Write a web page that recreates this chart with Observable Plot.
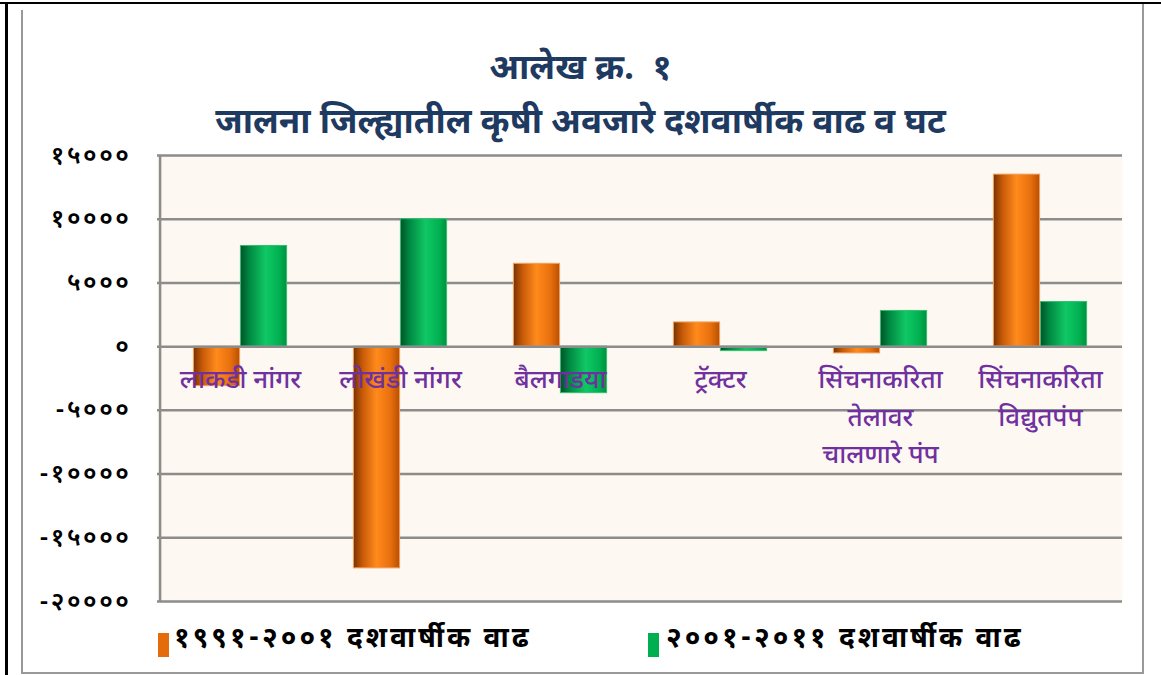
<!DOCTYPE html>
<html>
<head>
<meta charset="utf-8">
<script src="https://cdn.jsdelivr.net/npm/d3@7"></script>
<script src="https://cdn.jsdelivr.net/npm/@observablehq/plot@0.6"></script>
<style>
  html, body { margin: 0; padding: 0; background: #ffffff; }
  #wrap { position: relative; width: 1161px; height: 675px; overflow: hidden; background: #fff;
    font-family: "Noto Sans Devanagari", "Lohit Devanagari", "Noto Sans", sans-serif; }
  .title { position: absolute; left: 0; width: 1161px; text-align: center; color: #1F3A60; font-weight: bold;
    white-space: pre; line-height: 40px; }
  #chart { position: absolute; left: 0; top: 140px; }
  .leg { position: absolute; font-weight: bold; color: #000; font-size: 28px; line-height: 30px; white-space: nowrap; letter-spacing: 3px; }
  .sw { position: absolute; width: 11px; height: 24px; }
  #chart g[aria-label="y-axis tick label"] text { letter-spacing: 2.5px; }
</style>
</head>
<body>
<div id="wrap">
  <div style="position:absolute;left:0;top:2px;width:1161px;height:2px;background:#000"></div>
  <div style="position:absolute;left:5px;top:2px;width:3px;height:673px;background:#000"></div>
  <div style="position:absolute;left:21px;top:10px;width:2px;height:663px;background:#999"></div>
  <div style="position:absolute;left:1142px;top:4px;width:2px;height:669px;background:#999"></div>
  <div style="position:absolute;left:21px;top:672px;width:1123px;height:2px;background:#999"></div>
  <div class="title" id="t1" style="top:51px;font-size:35px;"></div>
  <div class="title" id="t2" style="top:105px;font-size:35px;"></div>
  <div id="chart"></div>
  <div class="sw" style="left:158px;top:633px;background:#E46C0A"></div>
  <div class="leg" id="l1" style="left:174px;top:625px;"></div>
  <div class="sw" style="left:648px;top:633px;background:#00B050"></div>
  <div class="leg" id="l2" style="left:666px;top:625px;"></div>
</div>
<script>
const titleLine1 = "आलेख क्र.  १";
const titleLine2 = "जालना जिल्ह्यातील कृषी अवजारे दशवार्षीक वाढ व घट";
const categories = ["लाकडी नांगर", "लोखंडी नांगर", "बैलगाडया", "ट्रॅक्टर", "सिंचनाकरिता\nतेलावर\nचालणारे पंप", "सिंचनाकरिता\nविद्युतपंप"];
const seriesNames = ["१९९१-२००१ दशवार्षीक वाढ", "२००१-२०११ दशवार्षीक वाढ"];
const series1991 = [-3100, -17400, 6500, 1900, -530, 13500];
const series2001 = [7900, 10000, -3650, -350, 2800, 3500];
const yTicks = [-20000, -15000, -10000, -5000, 0, 5000, 10000, 15000];
const yTickLabels = ["-२००००", "-१५०००", "-१००००", "-५०००", "०", "५०००", "१००००", "१५०००"];

document.getElementById("t1").textContent = titleLine1;
document.getElementById("t2").textContent = titleLine2;
document.getElementById("l1").textContent = seriesNames[0];
document.getElementById("l2").textContent = seriesNames[1];

const rowsA = categories.map((c, i) => ({cat: c, value: series1991[i]}));
const rowsB = categories.map((c, i) => ({cat: c, value: series2001[i]}));

const W = 1161, mL = 157, mR = 39;
const band = (W - mL - mR) / categories.length;
const barW = 47;
const inset = (band - barW) / 2;

const chart = Plot.plot({
  width: W,
  height: 480,
  marginLeft: mL,
  marginRight: mR,
  marginTop: 15,
  marginBottom: 19,
  style: {background: "transparent", fontFamily: "'Noto Sans Devanagari', 'Lohit Devanagari', 'Noto Sans', sans-serif"},
  x: {domain: categories, padding: 0, axis: null},
  y: {domain: [-20000, 15000], axis: null},
  marks: [
    Plot.frame({fill: "#FDF8F1", stroke: null}),
    Plot.ruleY(yTicks.filter(d => d !== 0), {stroke: "#8C8C8C", strokeWidth: 2.5}),
    Plot.ruleX([categories[0]], {y1: -20000, y2: 15000, dx: -band / 2, stroke: "#8C8C8C", strokeWidth: 2.5}),
    Plot.axisY({ticks: yTicks, tickFormat: d => yTickLabels[yTicks.indexOf(d)], tickSize: 0, tickPadding: 26, fontSize: 25, fontWeight: 600, color: "#000", label: null}),
    Plot.barY(rowsA, {x: "cat", y: "value", fill: "url(#gOrange)", stroke: "#F0A060", strokeWidth: 1, insetLeft: inset, insetRight: inset, dx: -barW / 2}),
    Plot.barY(rowsB, {x: "cat", y: "value", fill: "url(#gGreen)", stroke: "#30C070", strokeWidth: 1, insetLeft: inset, insetRight: inset, dx: barW / 2}),
    Plot.ruleY([0], {stroke: "#8C8C8C", strokeWidth: 2.5}),
    Plot.text(categories, {x: d => d, y: 0, text: d => d, dy: 15, lineAnchor: "top", lineHeight: 1.44, fontSize: 26, fill: "#7030A0", fontWeight: "500"})
  ]
});

const ns = "http://www.w3.org/2000/svg";
const defs = document.createElementNS(ns, "defs");
function grad(id, stops) {
  const g = document.createElementNS(ns, "linearGradient");
  g.setAttribute("id", id);
  g.setAttribute("x1", "0"); g.setAttribute("x2", "1"); g.setAttribute("y1", "0"); g.setAttribute("y2", "0");
  for (const [o, c] of stops) {
    const s = document.createElementNS(ns, "stop");
    s.setAttribute("offset", o); s.setAttribute("stop-color", c);
    g.appendChild(s);
  }
  defs.appendChild(g);
}
grad("gOrange", [["0", "#7A3300"], ["0.2", "#C85A08"], ["0.5", "#FF8A1C"], ["0.8", "#E8700E"], ["1", "#B85000"]]);
grad("gGreen", [["0", "#00512A"], ["0.2", "#008A42"], ["0.55", "#10C865"], ["0.85", "#00B050"], ["1", "#009040"]]);
chart.insertBefore(defs, chart.firstChild);
document.getElementById("chart").appendChild(chart);
</script>
</body>
</html>
